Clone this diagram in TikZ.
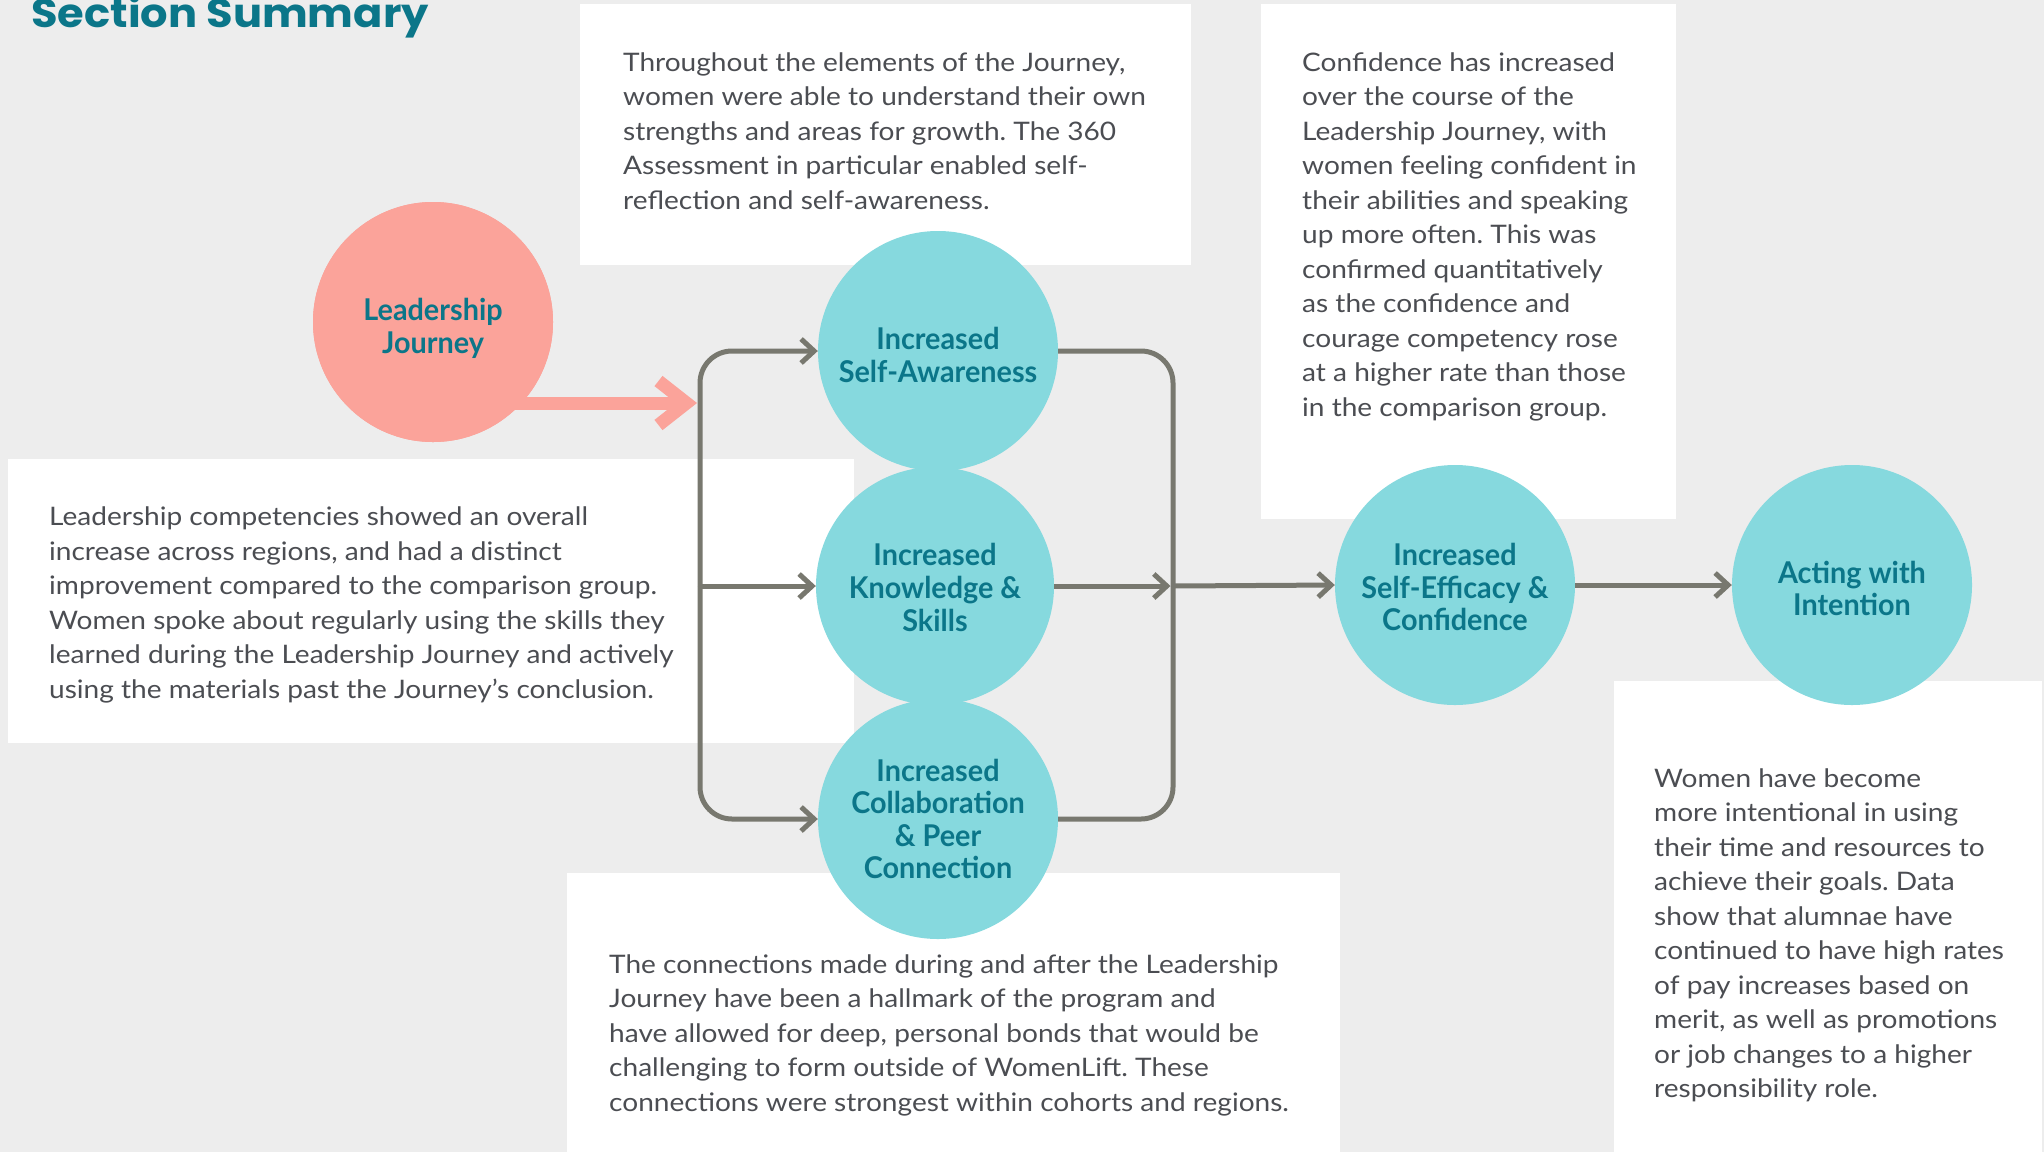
\documentclass[tikz,border=0pt]{standalone}
\usepackage{fontspec}
\setmainfont{Lato}[FakeStretch=1.1]
\newfontfamily\circfont{Lato}[FakeStretch=0.96]
\newfontfamily\titlefont{Poppins}[FakeStretch=1.08]
\usetikzlibrary{arrows.meta}
\definecolor{bgc}{HTML}{EDEDED}
\definecolor{tealtxt}{HTML}{0B7689}
\definecolor{circfill}{HTML}{86D9DE}
\definecolor{salmon}{HTML}{FBA39A}
\definecolor{conngray}{HTML}{78786F}
\definecolor{bodytxt}{HTML}{4B4D52}
\frenchspacing
\begin{document}
\begin{tikzpicture}[x=1pt,y=-1pt,
  wbox/.style={fill=white, draw=none, inner sep=0, minimum width=#1, anchor=north west},
  body/.style={anchor=base west, inner sep=0, align=left, text=bodytxt,
    font=\frenchspacing\fontsize{25.5}{34.5}\selectfont},
  bubble/.style={circle, fill=circfill, minimum size=240pt, inner sep=0},
  bubbletext/.style={inner sep=0, align=center, text=tealtxt,
    font=\circfont\bfseries\fontsize{30}{32.6}\selectfont},
  connline/.style={draw=conngray, line width=5pt},
  connarrow/.style={connline, -{Straight Barb[sharp,length=13pt,width=24pt]}},
  salmonarrow/.style={draw=salmon, line width=13pt, -{Straight Barb[sharp,length=28pt,width=44pt]}}
]
\useasboundingbox (0,0) rectangle (2044,1152);
\fill[bgc] (0,0) rectangle (2044,1152);

% white boxes
\node[wbox=611pt, minimum height=261pt] (b1) at (580,4) {};
\node[wbox=415pt, minimum height=515pt] (b2) at (1261,4) {};
\node[wbox=846pt, minimum height=284pt] (b3) at (8,459) {};
\node[wbox=773pt, minimum height=279pt] (b4) at (567,873) {};
\node[wbox=428pt, minimum height=471pt] (b5) at (1614,681) {};

% title
\node[anchor=base west, inner sep=0, text=tealtxt,
  font=\titlefont\bfseries\fontsize{40}{44}\selectfont] (title) at (31,27.5) {Section Summary};

% body texts (anchored at the baseline of the last line)
\node[body] (t1) at (623,209) {Throughout the elements of the Journey,\\women were able to understand their own\\strengths and areas for growth. The 360\\Assessment in particular enabled self-\\reflection and self-awareness.};
\node[body] (t2) at (1302,416) {Confidence has increased\\over the course of the\\Leadership Journey, with\\women feeling confident in\\their abilities and speaking\\up more often. This was\\confirmed quantitatively\\as the confidence and\\courage competency rose\\at a higher rate than those\\in the comparison group.};
\node[body] (t3) at (49,698) {Leadership competencies showed an overall\\increase across regions, and had a distinct\\improvement compared to the comparison group.\\Women spoke about regularly using the skills they\\learned during the Leadership Journey and actively\\using the materials past the Journey’s conclusion.};
\node[body] (t4) at (609,1111) {The connections made during and after the Leadership\\Journey have been a hallmark of the program and\\have allowed for deep, personal bonds that would be\\challenging to form outside of WomenLift. These\\connections were strongest within cohorts and regions.};
\node[body] (t5) at (1654,1097.5) {Women have become\\more intentional in using\\their time and resources to\\achieve their goals. Data\\show that alumnae have\\continued to have high rates\\of pay increases based on\\merit, as well as promotions\\or job changes to a higher\\responsibility role.};

% junction points
\coordinate (jL) at (700,586);
\coordinate (jR) at (1173,586);
\coordinate (ljtip) at (697,403);

% circles
\node[bubble, fill=salmon] (LJ) at (433,322) {};
\node[bubble] (SA) at (938,351) {};
\node[bubble, minimum size=238pt] (KS) at (935,586) {};
\node[bubble] (CP) at (938,819) {};
\node[bubble] (SE) at (1455,585) {};
\node[bubble] (AI) at (1852,585) {};

% connectors
\draw[salmonarrow] (LJ.center |- ljtip) -- (ljtip);
\fill[salmon] (LJ.center) circle[radius=120pt];
\draw[connarrow, rounded corners=32pt] (jL) |- (SA.west);
\draw[connarrow] (jL) -- (KS.west);
\draw[connarrow, rounded corners=32pt] (jL) |- (CP.west);
\draw[connline, rounded corners=32pt] (SA.east) -| (jR);
\draw[connline, rounded corners=32pt] (CP.east) -| (jR);
\draw[connarrow] (KS.east) -- ([xshift=-2.5pt]jR);
\draw[connarrow] (jR) -- (SE.west);
\draw[connarrow] (SE.east) -- (AI.west);

% circle texts
\node[bubbletext, yshift=-6.5pt] (LJt) at (LJ) {Leadership\\Journey};
\node[bubbletext, yshift=-4pt] (SAt) at (SA) {Increased\\Self-Awareness};
\node[bubbletext, yshift=-1.5pt] (KSt) at (KS) {Increased\\Knowledge \&\\Skills};
\node[bubbletext] (CPt) at (CP) {Increased\\Collaboration\\\& Peer\\Connection};
\node[bubbletext, yshift=-2pt] (SEt) at (SE) {Increased\\Self-Efficacy \&\\Confidence};
\node[bubbletext, yshift=-3.5pt] (AIt) at (AI) {Acting with\\Intention};
\end{tikzpicture}
\end{document}
